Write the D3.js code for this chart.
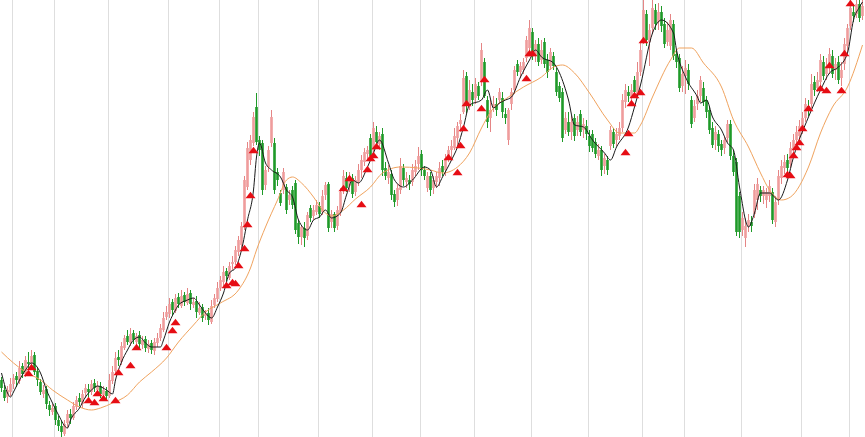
<!DOCTYPE html>
<html>
<head>
<meta charset="utf-8">
<script src="https://cdn.jsdelivr.net/npm/d3@7"></script>
<style>
  html, body { margin: 0; padding: 0; background: #ffffff; overflow: hidden; }
  svg { display: block; }
</style>
</head>
<body>
<svg id="chart" width="865" height="437"></svg>
<script>
// ---- data (price units) ----
const open = [
60,50,43,48,56,64,59,74,66,78, 76,85,69,58,46,51,35,28,34,20,
14,6,17,26,22,33,42,36,47,51, 48,57,50,54,45,49,44,59,69,83,
78,92,104,97,107,98,105,95,101,91, 97,89,97,102,110,123,126,138,129,143,
134,145,137,147,135,139,127,133,124,127, 118,135,141,152,158,169,162,176,178,188,
195,213,253,280,297,333,300,297,255,273, 297,297,268,247,250,253,240,250,257,217,
203,212,204,232,224,228,234,228,245,256, 218,226,214,228,250,262,254,262,248,258,
270,278,286,302,290,308,296,306,272,262, 266,246,240,250,272,258,260,258,268,276,
286,270,252,264,252,258,262,274,270,282, 290,292,302,316,328,364,336,348,342,354,
358,378,340,322,332,336,340,342,326,300, 336,350,376,368,370,382,392,408,384,396,
380,398,380,374,384,368,354,348,310,318, 308,322,310,326,310,314,304,306,298,284,
290,274,280,294,308,300,304,312,338,348, 342,360,346,368,400,426,398,412,430,418,
428,416,398,394,416,386,382,354,364,370, 340,322,336,344,352,340,330,312,300,306,
296,292,302,316,284,278,244,210,202,214, 218,226,240,250,244,240,244,248,218,240,
262,272,280,276,290,300,304,312,322,334, 336,358,352,358,378,366,372,384,370,378,
362,376,394,414,428,426,436,424
];
const close = [
52,42,50,56,62,60,72,66,80,76, 84,68,60,48,50,36,30,32,20,14,
8,16,26,22,34,40,38,46,52,48, 56,52,54,46,50,44,60,68,82,80,
94,102,98,106,100,104,96,100,92,96, 90,98,102,112,122,128,136,130,142,136,
144,138,146,136,138,128,132,122,126,120, 134,142,152,160,168,164,174,178,190,200,
214,260,292,300,323,298,290,250,270,290, 323,250,260,237,268,230,245,235,210,203,
213,202,225,222,230,235,226,244,255,212, 226,212,230,248,264,252,264,246,260,270,
280,288,290,284,312,298,304,270,264,268, 245,238,252,274,260,262,256,270,274,284,
270,264,264,250,260,264,272,268,282,290, 294,304,314,320,362,336,350,340,356,344,
390,344,318,330,336,330,348,328,322,330, 348,370,368,374,378,400,412,384,396,378,
390,376,368,388,374,348,342,302,322,308, 318,304,318,308,316,306,294,292,286,290,
270,282,270,310,296,306,312,340,350,344, 350,348,368,390,430,400,410,432,416,428,
414,396,410,420,384,378,352,366,372,356, 316,334,344,360,338,328,310,295,308,294,
290,300,316,284,268,208,208,222,214,220, 214,250,256,244,250,248,254,220,238,264,
274,278,272,292,300,308,314,322,336,330, 356,350,360,380,364,374,386,366,376,360,
370,396,412,432,424,436,422,434
];
const high = [
63,55,54,62,66,68,79,77,84,88, 90,88,72,61,55,54,39,36,37,24,
19,20,30,31,38,44,47,50,56,56, 60,61,59,58,54,53,66,74,88,90,
98,105,110,112,110,107,109,104,104,100, 100,102,107,116,128,134,142,141,146,147,
150,148,152,150,142,144,138,136,130,132, 140,146,158,164,174,172,178,184,194,204,
218,264,298,305,328,347,304,300,274,294, 330,302,272,250,272,256,250,254,260,220,
215,218,228,235,235,240,238,250,258,258, 230,228,234,252,270,268,268,266,264,276,
285,292,294,306,318,314,308,312,278,275, 270,250,256,282,276,268,265,276,280,293,
290,274,268,268,264,268,278,280,286,294, 300,312,318,326,370,368,360,356,362,358,
397,382,344,340,344,342,352,348,332,332, 352,374,380,378,382,404,420,412,400,402,
400,402,386,392,388,372,358,352,328,328, 324,326,324,330,322,320,310,310,302,296,
294,286,284,314,312,312,318,346,356,354, 356,364,378,398,440,430,416,440,436,437,
434,422,418,426,420,390,386,374,380,376, 344,340,350,364,358,344,334,318,314,310,
300,304,320,320,290,282,248,228,222,226, 224,256,262,254,254,252,260,252,244,270,
280,285,286,298,306,314,320,328,342,340, 366,364,368,386,384,382,392,390,382,384,
378,402,416,440,436,440,440,440
];
const low = [
48,39,37,44,51,53,56,62,63,72, 74,65,54,45,42,31,24,25,15,9,
3,4,12,16,20,30,34,32,42,43, 45,48,46,42,41,39,42,56,66,74,
75,90,95,94,96,95,90,91,88,87, 86,85,93,99,108,120,122,124,127,132,
132,134,135,130,132,122,125,118,120,115, 116,132,138,149,154,159,160,170,175,184,
192,210,250,275,294,295,284,245,250,268, 293,246,254,234,246,226,235,231,206,196,
195,193,200,218,220,225,222,225,240,208, 212,208,210,224,246,248,248,242,244,254,
262,274,280,280,288,294,290,264,260,256, 240,233,234,246,254,252,250,254,264,270,
264,260,248,244,246,252,254,264,264,278, 280,290,294,308,326,327,330,334,336,340,
354,342,312,308,328,324,336,322,316,295, 330,346,364,362,366,378,388,380,378,374,
376,372,362,370,370,344,338,298,306,304, 300,299,304,304,302,300,288,288,282,280,
264,266,265,290,292,294,300,308,332,338, 336,342,342,364,396,394,374,406,410,410,
408,392,394,390,380,372,348,348,346,350, 312,318,330,338,334,322,306,292,290,288,
284,286,298,280,264,204,202,204,193,208, 208,222,230,238,236,232,238,216,213,235,
256,266,266,272,284,294,300,306,318,324, 332,344,348,352,360,360,366,362,360,356,
354,370,388,410,418,422,418,420
];

// short moving average (black) read at candle indices
const ma5Idx = [0,2,3,4,6,8,10,13,15,17,19,22,23,26,28,30,32,35,37,38,40,42,44,46,48,50,53,54,56,58,59,62,64,66,68,70,72,74,76,78,80,82,84,85,86,88,90,93,95,97,99,102,104,106,108,110,113,115,117,119,122,124,126,129,131,134,137,141,143,145,147,150,152,154,156,160,162,164,166,168,170,173,176,178,180,184,186,189,191,194,197,201,203,205,209,211,213,217,220,224,225,228,232,233,235,237,240,242,244,246,249,251,253,256,259,262,264,269,273,276,279,282,284,286,287];
const ma5 = [67,47,43,48,60,70,77,67,50,37,25,12,20,32,43,50,54,50,46,60,78,90,100,103,97,93,93,100,118,130,135,140,142,135,127,122,133,147,167,172,190,220,250,283,297,277,270,263,250,243,220,210,220,223,230,222,227,245,260,257,273,287,300,277,260,253,260,273,270,253,263,280,293,313,335,340,350,332,337,340,343,363,380,390,383,377,367,340,315,313,300,287,280,293,313,333,355,407,420,407,390,363,343,337,340,323,310,297,290,253,213,227,247,247,240,260,283,323,350,367,373,387,420,433,438];

// long moving average (orange) read at candle indices
const ma20Idx = [0,4,8,13,17,22,26,30,33,37,42,46,50,55,59,64,68,73,79,83,85,88,92,95,97,100,104,107,110,114,118,123,127,133,139,143,147,152,156,160,163,169,174,180,184,187,191,196,202,206,211,213,217,223,226,230,234,240,244,249,253,256,260,263,269,273,277,282,287];
const ma20 = [88,77,68,60,50,40,33,30,32,37,45,58,68,82,98,115,128,137,150,172,190,213,240,260,263,257,243,230,224,230,241,253,267,273,272,270,267,273,287,312,328,343,353,363,373,375,367,347,320,307,307,315,343,380,392,392,377,353,320,293,267,250,240,243,273,307,333,353,395];

// buy-signal markers (red triangles)
const sigIdx = [9,10,29,31,32,34,38,39,43,45,55,57,58,75,77,78,79,81,82,83,84,114,116,120,122,123,124,125,149,152,153,154,155,160,161,175,176,177,208,209,210,211,213,214,262,263,264,265,266,267,269,273,275,276,280,281,283];
const sigPrice = [67,73,40,38,47,42,40,68,75,93,93,110,118,155,158,157,175,192,216,245,290,252,262,236,271,282,285,294,283,268,295,312,337,332,361,362,387,387,288,307,337,345,348,400,266,265,285,293,298,312,332,352,350,375,350,387,437];

// period boundaries (vertical grid lines) at candle indices
const gridIdx = [4,18,36,56,73,86,106,124,140,158,177,196,214,228,247,267,283];

// ---- drawing ----
const W = 865, H = 437;
const n = close.length;
const svg = d3.select("#chart");

const x = d3.scaleLinear().domain([0, n - 1]).range([1.5, 862.5]);
const y = d3.scaleLinear().domain([0, 440]).range([440, 0]);
const step = x(1) - x(0);
const bodyW = 2.6;

// grid
svg.append("g").selectAll("line").data(gridIdx).join("line")
  .attr("x1", d => Math.round(x(d) - step / 2) + 0.5)
  .attr("x2", d => Math.round(x(d) - step / 2) + 0.5)
  .attr("y1", 0).attr("y2", H)
  .attr("stroke", "#dedede").attr("stroke-width", 1);

const candles = d3.range(n).map(i => ({ i, o: open[i], c: close[i], h: high[i], l: low[i] }));
const upFill = "#ef9c9c", upLine = "#e58585";
const dnFill = "#1e9a28", dnLine = "#1e9a28";

const g = svg.append("g");
g.selectAll("line.wick").data(candles).join("line")
  .attr("class", "wick")
  .attr("x1", d => x(d.i)).attr("x2", d => x(d.i))
  .attr("y1", d => y(d.h)).attr("y2", d => y(d.l))
  .attr("stroke", d => d.c >= d.o ? upLine : dnLine)
  .attr("stroke-width", 1);
g.selectAll("rect.body").data(candles).join("rect")
  .attr("class", "body")
  .attr("x", d => x(d.i) - bodyW / 2)
  .attr("width", bodyW)
  .attr("y", d => y(Math.max(d.o, d.c)))
  .attr("height", d => Math.max(1, Math.abs(y(d.o) - y(d.c))))
  .attr("fill", d => d.c >= d.o ? upFill : dnFill);

// moving averages
const line = d3.line().x(d => x(d[0])).y(d => y(d[1])).curve(d3.curveMonotoneX);
svg.append("path")
  .datum(ma20Idx.map((k, j) => [k, ma20[j]]))
  .attr("d", line).attr("fill", "none")
  .attr("stroke", "#f0a35e").attr("stroke-width", 1);
svg.append("path")
  .datum(ma5Idx.map((k, j) => [k, ma5[j]]))
  .attr("d", line).attr("fill", "none")
  .attr("stroke", "#1a1a1a").attr("stroke-width", 1);

// signal triangles
svg.append("g").selectAll("path").data(sigIdx.map((k, j) => [k, sigPrice[j]])).join("path")
  .attr("d", d => {
    const cx = x(d[0]), cy = y(d[1]);
    return `M${cx - 5},${cy + 3.2}L${cx},${cy - 3.2}L${cx + 5},${cy + 3.2}Z`;
  })
  .attr("fill", "#e60d14");
</script>
</body>
</html>
